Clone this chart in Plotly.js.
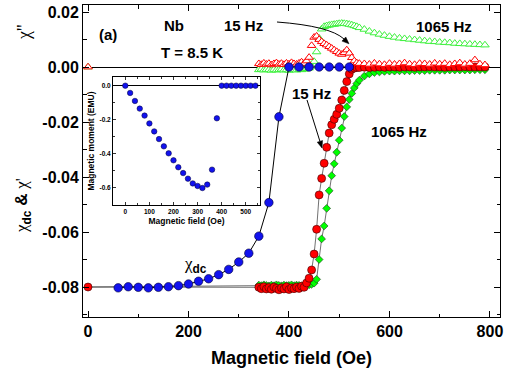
<!DOCTYPE html>
<html>
<head>
<meta charset="utf-8">
<script src="https://cdn.plot.ly/plotly-3.0.1.min.js"></script>
<style>
  html, body { margin: 0; padding: 0; background: #ffffff; }
  #chart { width: 510px; height: 375px; }
</style>
</head>
<body>
<div id="chart"></div>
<script>
// Nb sample at T = 8.5 K: ac susceptibility (15 Hz and 1065 Hz), dc susceptibility,
// and (inset) the dc magnetic moment versus applied field.

// Applied field for the ac measurements (Oe)
const fieldAc = [0,
  340, 345, 350, 355, 360, 365, 370, 375, 380, 385,
  390, 395, 400, 405, 410, 415, 420, 425, 430, 435,
  440, 445, 450, 455, 460, 465, 470, 475, 480, 485,
  490, 495, 500, 505, 510, 515, 520, 525, 530, 535,
  540, 550, 560, 570, 580, 590, 600, 610, 620, 630,
  640, 650, 660, 670, 680, 690, 700, 710, 720, 730,
  740, 750, 760, 770, 780, 790];

// Real part chi' at 15 Hz
const chiReal15 = [-0.0800,
  -0.0801, -0.0806, -0.0799, -0.0807, -0.0802, -0.0808, -0.0800, -0.0805, -0.0810, -0.0803,
  -0.0807, -0.0799, -0.0809, -0.0803, -0.0806, -0.0800, -0.0805, -0.0797, -0.0801, -0.0785,
  -0.0768, -0.0738, -0.0680, -0.0590, -0.0465, -0.0405, -0.0350, -0.0292, -0.0240, -0.0210,
  -0.0190, -0.0172, -0.0150, -0.0120, -0.0085, -0.0053, -0.0025, -0.0008, -0.0004, -0.0002,
  -0.0002, -0.0001, -0.0002, -0.0001, 0.0000, -0.0001, 0.0000, 0.0000, -0.0001, 0.0000,
  0.0000, -0.0001, 0.0000, 0.0000, 0.0001, 0.0000, 0.0000, -0.0001, 0.0000, 0.0000,
  0.0000, 0.0001, 0.0000, 0.0000, 0.0000, 0.0000];

// Real part chi' at 1065 Hz
const chiReal1065 = [-0.0800,
  -0.0793, -0.0795, -0.0792, -0.0794, -0.0796, -0.0793, -0.0795, -0.0792, -0.0794, -0.0796,
  -0.0793, -0.0795, -0.0794, -0.0792, -0.0795, -0.0793, -0.0794, -0.0796, -0.0793, -0.0794,
  -0.0792, -0.0790, -0.0786, -0.0772, -0.0700, -0.0625, -0.0578, -0.0514, -0.0450, -0.0395,
  -0.0352, -0.0310, -0.0266, -0.0222, -0.0180, -0.0145, -0.0118, -0.0096, -0.0076, -0.0060,
  -0.0048, -0.0033, -0.0025, -0.0020, -0.0018, -0.0016, -0.0015, -0.0015, -0.0014, -0.0014,
  -0.0014, -0.0013, -0.0013, -0.0013, -0.0012, -0.0012, -0.0012, -0.0012, -0.0011, -0.0011,
  -0.0011, -0.0011, -0.0011, -0.0010, -0.0010, -0.0010];

// Imaginary part chi'' at 15 Hz
const chiImag15 = [0.0000,
  0.0012, 0.0009, 0.0014, 0.0010, 0.0013, 0.0008, 0.0012, 0.0015, 0.0010, 0.0013,
  0.0009, 0.0014, 0.0011, 0.0016, 0.0012, 0.0010, 0.0014, 0.0018, 0.0013, 0.0022,
  0.0035, 0.0078, 0.0108, 0.0112, 0.0100, 0.0092, 0.0085, 0.0080, 0.0074, 0.0068,
  0.0062, 0.0056, 0.0050, 0.0046, 0.0052, 0.0062, 0.0050, 0.0034, 0.0022, 0.0015,
  0.0013, 0.0012, 0.0010, 0.0014, 0.0011, 0.0009, 0.0013, 0.0010, 0.0012, 0.0015,
  0.0011, 0.0009, 0.0013, 0.0012, 0.0010, 0.0014, 0.0011, 0.0013, 0.0009, 0.0012,
  0.0015, 0.0010, 0.0013, 0.0026, 0.0011, 0.0008];

// Imaginary part chi'' at 1065 Hz
const chiImag1065 = [0.0000,
  -0.0010, -0.0008, -0.0011, -0.0009, -0.0010, -0.0012, -0.0009, -0.0011, -0.0010, -0.0008,
  -0.0011, -0.0010, -0.0012, -0.0009, -0.0010, -0.0011, -0.0009, -0.0010, -0.0008, -0.0006,
  -0.0004, 0.0003, 0.0020, 0.0055, 0.0105, 0.0138, 0.0147, 0.0150, 0.0152, 0.0154,
  0.0155, 0.0157, 0.0158, 0.0159, 0.0158, 0.0157, 0.0155, 0.0153, 0.0150, 0.0147,
  0.0143, 0.0137, 0.0130, 0.0124, 0.0119, 0.0115, 0.0111, 0.0108, 0.0105, 0.0103,
  0.0101, 0.0099, 0.0097, 0.0095, 0.0093, 0.0092, 0.0090, 0.0089, 0.0088, 0.0086,
  0.0085, 0.0084, 0.0083, 0.0082, 0.0081, 0.0080];

// dc susceptibility
const fieldDc = [60, 80, 100, 120, 140, 160, 180, 200, 220, 240, 260, 280,
  300, 320, 340, 360, 380, 400, 420, 440, 460, 480, 500, 520];
const chiDc = [-0.0803, -0.0799, -0.0801, -0.0803, -0.0801, -0.0799, -0.0795, -0.0789,
  -0.0779, -0.0770, -0.0755, -0.0736, -0.0709, -0.0677, -0.0615, -0.0493, -0.0181,
  0, 0, 0, 0, 0, 0, 0];

// Inset: dc magnetic moment (EMU)
const fieldMoment = [0, 20, 40, 60, 80, 100, 120, 140, 160, 180, 200, 220, 240, 260,
  280, 300, 320, 340, 360, 380, 400, 420, 440, 460, 480, 500, 520, 540];
const moment = [0, -0.043, -0.090, -0.135, -0.176, -0.222, -0.269, -0.314, -0.357,
  -0.398, -0.439, -0.480, -0.514, -0.547, -0.575, -0.590, -0.602, -0.582, -0.494,
  -0.192, 0, 0, 0, 0, 0, 0, 0, 0];

// Tick labels
const mainYTickVals = [0.02, 0.00, -0.02, -0.04, -0.06, -0.08];
const mainYTickText = ['0.02', '0.00', '-0.02', '-0.04', '-0.06', '-0.08'];
const mainYMinorVals = [0.01, -0.01, -0.03, -0.05, -0.07, -0.09];
const insetYTickVals = [0, -0.2, -0.4, -0.6];
const insetYTickText = ['0.0', '-0.2', '-0.4', '-0.6'];
const insetYMinorVals = [-0.1, -0.3, -0.5];

// Plot-area geometry (pixels) used to place text and pointers in paper coordinates
const L = 83, T = 5, W = 417, H = 312;
const px = x => (x - L) / W;
const py = y => (T + H - y) / H;
const pt = (x, y) => px(x).toFixed(4) + ',' + py(y).toFixed(4);

const RED = '#ff0000', GREEN = '#00ff00', LIGHTGREEN = '#3cf03c', BLUE = '#1212ee';
const FONT = 'Liberation Sans, Arial, sans-serif';

// Drawing order: chi' 1065 Hz, chi' 15 Hz, chi'' 1065 Hz, chi'' 15 Hz, chi_dc, inset
const traces = [
  { x: fieldAc, y: chiReal1065, type: 'scatter', mode: 'lines+markers',
    line: { color: '#333333', width: 0.7 },
    marker: { symbol: 'diamond', size: 6, color: GREEN, line: { width: 0.6, color: '#1b3a1b' } },
    xaxis: 'x', yaxis: 'y', cliponaxis: false },
  { x: fieldAc, y: chiReal15, type: 'scatter', mode: 'lines+markers',
    line: { color: '#333333', width: 0.7 },
    marker: { symbol: 'circle', size: 8, color: RED, line: { width: 0.6, color: '#3a0000' } },
    xaxis: 'x', yaxis: 'y', cliponaxis: false },
  { x: fieldAc, y: chiImag1065, type: 'scatter', mode: 'markers',
    marker: { symbol: 'triangle-up', size: 7.5, color: '#ffffff', line: { width: 1, color: LIGHTGREEN } },
    xaxis: 'x', yaxis: 'y', cliponaxis: false },
  { x: fieldAc, y: chiImag15, type: 'scatter', mode: 'markers',
    marker: { symbol: 'triangle-up', size: 7.5, color: '#ffffff', line: { width: 1, color: RED } },
    xaxis: 'x', yaxis: 'y', cliponaxis: false },
  { x: fieldDc, y: chiDc, type: 'scatter', mode: 'lines+markers',
    line: { color: '#000000', width: 1 },
    marker: { symbol: 'circle', size: 8.5, color: BLUE, line: { width: 0.6, color: '#000033' } },
    xaxis: 'x', yaxis: 'y', cliponaxis: false },
  { x: fieldMoment, y: moment, type: 'scatter', mode: 'markers',
    marker: { symbol: 'circle', size: 5.5, color: BLUE, line: { width: 0.5, color: '#000033' } },
    xaxis: 'x2', yaxis: 'y2', cliponaxis: false }
];

const boldText = (size) => ({ family: FONT, size: size, color: '#000', weight: 'bold' });

const label = (text, x, y, size, extra) => Object.assign({
  text: text, xref: 'paper', yref: 'paper', x: px(x), y: py(y),
  xanchor: 'center', yanchor: 'middle', showarrow: false, font: boldText(size)
}, extra || {});

const chi = s => '<span style="font-family:Liberation Serif;font-weight:normal">' + s + '</span>';

const annotations = [
  label('(a)', 108, 34, 15),
  label('Nb', 174, 26, 15),
  label('T = 8.5 K', 192, 52, 15),
  label('15 Hz', 243, 26, 15),
  label('1065 Hz', 444, 27, 15),
  label('15 Hz', 311, 93, 15),
  label('1065 Hz', 399, 131, 15),
  label(chi('χ') + '<sub>dc</sub>', 195, 265, 17),
  label(chi('χ\'\''), 24, 33, 18, { textangle: -90 }),
  label(chi('χ') + '<sub>dc</sub> & ' + chi('χ\''), 23, 206, 17, { textangle: -90 })
];

// Filled arrowhead (pixel geometry -> paper path) with tip at (tx, ty) pointing along (dx, dy)
function arrowHead(tx, ty, dx, dy) {
  const n = Math.hypot(dx, dy), ux = dx / n, uy = dy / n;
  const len = 7, half = 2.8;
  const bx = tx - ux * len, by = ty - uy * len;
  return {
    type: 'path', xref: 'paper', yref: 'paper',
    path: 'M' + pt(tx, ty) + ' L' + pt(bx - uy * half, by + ux * half) +
          ' L' + pt(bx + uy * half, by - ux * half) + ' Z',
    fillcolor: '#000', line: { color: '#000', width: 0.5 }
  };
}

const shapes = [
  // pointer from the lower "15 Hz" label to the chi' 15 Hz curve
  { type: 'path', xref: 'paper', yref: 'paper',
    path: 'M' + pt(307, 100) + ' L' + pt(320, 141.5), line: { color: '#000', width: 1 } },
  arrowHead(322, 148, 15, 48),
  // curved pointer from the upper "15 Hz" label to the chi'' 15 Hz peak
  { type: 'path', xref: 'paper', yref: 'paper',
    path: 'M' + pt(277, 22) + ' Q' + pt(330, 26) + ' ' + pt(344, 39), line: { color: '#000', width: 1 } },
  arrowHead(349, 43.8, 14, 13),
  // vertical zero line of the inset
  { type: 'line', xref: 'x2', yref: 'y2 domain', x0: 0, x1: 0, y0: 0, y1: 1,
    line: { color: '#000', width: 1.2 }, layer: 'below' }
];

const layout = {
  width: 510, height: 375,
  margin: { l: L, r: 510 - L - W, t: T, b: 375 - T - H, pad: 0 },
  paper_bgcolor: '#ffffff', plot_bgcolor: '#ffffff',
  showlegend: false,
  font: { family: FONT, color: '#000' },
  xaxis: {
    domain: [0, 1], range: [-10, 820], anchor: 'y',
    tickmode: 'linear', tick0: 0, dtick: 200,
    ticks: 'inside', ticklen: 6, tickwidth: 1, tickcolor: '#000',
    minor: { dtick: 100, tick0: 0, ticks: 'inside', ticklen: 3.5, tickwidth: 1, tickcolor: '#000' },
    showline: true, linecolor: '#000', linewidth: 1, mirror: 'allticks',
    showgrid: false, zeroline: false,
    tickfont: boldText(16),
    title: { text: 'Magnetic field (Oe)', font: boldText(18), standoff: 12 }
  },
  yaxis: {
    domain: [0, 1], range: [-0.0909, 0.02255], anchor: 'x',
    tickmode: 'array', tickvals: mainYTickVals, ticktext: mainYTickText,
    ticks: 'inside', ticklen: 6, tickwidth: 1, tickcolor: '#000',
    minor: { tickmode: 'array', tickvals: mainYMinorVals, ticks: 'inside', ticklen: 3.5, tickwidth: 1, tickcolor: '#000' },
    showline: true, linecolor: '#000', linewidth: 1, mirror: 'allticks',
    showgrid: false, zeroline: true, zerolinecolor: '#000', zerolinewidth: 1,
    tickfont: boldText(16)
  },
  xaxis2: {
    domain: [px(113), px(260)], range: [-51, 559], anchor: 'y2',
    tickmode: 'linear', tick0: 0, dtick: 100,
    ticks: 'inside', ticklen: 3, tickwidth: 0.8, tickcolor: '#000',
    minor: { dtick: 50, tick0: 0, ticks: 'inside', ticklen: 2, tickwidth: 0.8, tickcolor: '#000' },
    showline: true, linecolor: '#000', linewidth: 1, mirror: 'allticks',
    showgrid: false, zeroline: false,
    tickfont: boldText(6.5),
    title: { text: 'Magnetic field (Oe)', font: boldText(8.5), standoff: 4 }
  },
  yaxis2: {
    domain: [py(205), py(77)], range: [-0.702, 0.051], anchor: 'x2',
    tickmode: 'array', tickvals: insetYTickVals, ticktext: insetYTickText,
    ticks: 'inside', ticklen: 3, tickwidth: 0.8, tickcolor: '#000',
    minor: { tickmode: 'array', tickvals: insetYMinorVals, ticks: 'inside', ticklen: 2, tickwidth: 0.8, tickcolor: '#000' },
    showline: true, linecolor: '#000', linewidth: 1, mirror: 'allticks',
    showgrid: false, zeroline: true, zerolinecolor: '#000', zerolinewidth: 1.2,
    tickfont: boldText(6.5),
    title: { text: 'Magnetic moment (EMU)', font: boldText(8.5), standoff: 3 }
  },
  annotations: annotations,
  shapes: shapes
};

Plotly.newPlot('chart', traces, layout, { staticPlot: true, displayModeBar: false });
</script>
</body>
</html>
